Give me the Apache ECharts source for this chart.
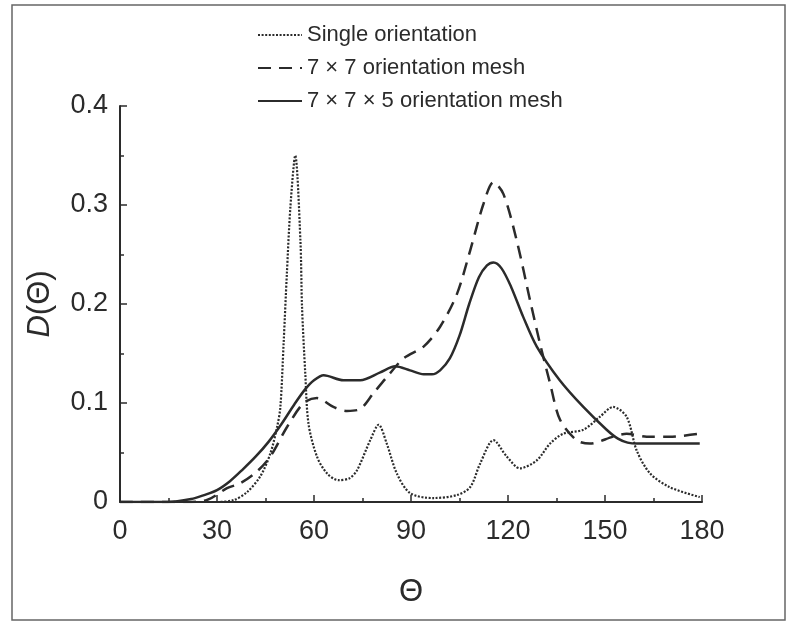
<!DOCTYPE html>
<html>
<head>
<meta charset="utf-8">
<script src="https://cdn.jsdelivr.net/npm/echarts@6/dist/echarts.min.js"></script>
<style>html,body{margin:0;padding:0;background:#fff}#c{width:788px;height:625px}</style>
</head>
<body>
<div id="c"></div>
<script>
// Θ values and D(Θ) values per series
var singleTheta = [0, 30, 35.2, 39.3, 43.4, 46.5, 48.6, 49.6, 50.6, 51.6, 52.7, 54.2, 55.8, 56.3, 57.3, 58.3, 60.9, 64, 67.6, 71, 73.3, 77.4, 80, 82.5, 85.6, 89.7, 96.9, 104.2, 108.3, 111.4, 115.5, 119.6, 123.7, 128.9, 133, 137.1, 143.3, 148.4, 152.5, 156.7, 159.8, 163.9, 170, 179.3];
var singleD = [0, 0, 0.002, 0.01, 0.026, 0.049, 0.076, 0.096, 0.16, 0.23, 0.298, 0.35, 0.264, 0.197, 0.13, 0.079, 0.046, 0.029, 0.022, 0.024, 0.032, 0.0625, 0.078, 0.059, 0.029, 0.009, 0.004, 0.007, 0.015, 0.039, 0.0625, 0.046, 0.034, 0.042, 0.059, 0.069, 0.073, 0.086, 0.096, 0.086, 0.052, 0.029, 0.015, 0.005];

var mesh77Theta = [0, 20, 26.9, 33.1, 37.2, 42.4, 46.5, 51.7, 56.8, 60.9, 66, 70.2, 74.3, 78.4, 82.5, 87.7, 93.9, 99, 104.2, 108.3, 112.4, 115.5, 118.6, 122.7, 126.8, 129.9, 133, 136.1, 141.2, 145.3, 152.5, 156.7, 162.9, 170, 179.3];
var mesh77D = [0, 0, 0.002, 0.014, 0.019, 0.031, 0.046, 0.076, 0.1, 0.105, 0.096, 0.092, 0.094, 0.11, 0.126, 0.145, 0.157, 0.177, 0.21, 0.254, 0.301, 0.323, 0.311, 0.264, 0.204, 0.16, 0.12, 0.083, 0.0625, 0.059, 0.066, 0.069, 0.066, 0.066, 0.069];

var mesh775Theta = [0, 14.7, 22, 26, 30, 34, 38, 42, 46, 50, 54, 57.3, 60, 63, 69.1, 74.3, 80.5, 85.1, 89.7, 93.9, 96.5, 99, 102, 105, 108, 111, 113.5, 115.5, 118, 121, 124.7, 128.9, 136, 143.3, 150.5, 154, 157, 160, 179.3];
var mesh775D = [0, 0, 0.003, 0.007, 0.012, 0.021, 0.033, 0.046, 0.061, 0.079, 0.099, 0.114, 0.123, 0.128, 0.123, 0.123, 0.131, 0.137, 0.133, 0.129, 0.129, 0.133, 0.145, 0.168, 0.2, 0.227, 0.239, 0.242, 0.236, 0.217, 0.187, 0.157, 0.123, 0.096, 0.073, 0.064, 0.06, 0.059, 0.059];

var xTicks = [0, 30, 60, 90, 120, 150, 180];
var yTicks = [0, 0.1, 0.2, 0.3, 0.4];
var seriesNames = ['Single orientation', '7 × 7 orientation mesh', '7 × 7 × 5 orientation mesh'];

function pairs(xs, ys) { return xs.map(function (x, i) { return [x, ys[i]]; }); }

var FONT = '"Liberation Sans", Arial, sans-serif';
var INK = '#2b2b2b';

var chart = echarts.init(document.getElementById('c'), null, { renderer: 'canvas' });
chart.setOption({
  backgroundColor: '#fff',
  animation: false,
  graphic: [{
    type: 'rect', shape: { x: 12, y: 5, width: 773, height: 615 },
    style: { fill: 'none', stroke: '#666', lineWidth: 1.5 }, silent: true
  }],
  grid: { left: 120, right: 86, top: 106, bottom: 123 },
  legend: {
    orient: 'vertical', left: 252, top: 19,
    itemWidth: 44, itemHeight: 14, itemGap: 11,
    itemStyle: { opacity: 0 },
    textStyle: { fontFamily: FONT, fontSize: 22, color: INK, lineHeight: 22 },
    data: seriesNames
  },
  xAxis: {
    type: 'value', min: xTicks[0], max: xTicks[xTicks.length - 1], interval: 30,
    name: 'Θ', nameLocation: 'middle', nameGap: 75,
    nameTextStyle: { fontFamily: FONT, fontSize: 31, color: INK },
    axisLine: { lineStyle: { color: INK, width: 2 } },
    axisTick: { inside: true, length: 7, lineStyle: { color: INK, width: 1.5 } },
    minorTick: { show: true, splitNumber: 2, length: 4, lineStyle: { color: INK, width: 1.5 } },
    axisLabel: { fontFamily: FONT, fontSize: 27, color: INK, margin: 16 },
    splitLine: { show: false }
  },
  yAxis: {
    type: 'value', min: yTicks[0], max: yTicks[yTicks.length - 1], interval: 0.1,
    name: '{i|D}(Θ)', nameLocation: 'middle', nameGap: 64, nameRotate: 90,
    nameTextStyle: { fontFamily: FONT, fontSize: 31, color: INK,
      rich: { i: { fontFamily: FONT, fontSize: 31, fontStyle: 'italic', color: INK } } },
    axisLine: { show: true, lineStyle: { color: INK, width: 2 } },
    axisTick: { show: true, inside: true, length: 7, lineStyle: { color: INK, width: 1.5 } },
    minorTick: { show: true, splitNumber: 2, length: 4, lineStyle: { color: INK, width: 1.5 } },
    axisLabel: { fontFamily: FONT, fontSize: 27, color: INK, margin: 12,
      formatter: function (v) { return v === 0 ? '0' : v.toFixed(1); } },
    splitLine: { show: false }
  },
  series: [
    {
      name: seriesNames[0], type: 'line', data: pairs(singleTheta, singleD),
      smooth: 0.3, symbol: 'none',
      lineStyle: { color: INK, width: 2.2, type: [2, 1.6] }, itemStyle: { color: INK }
    },
    {
      name: seriesNames[1], type: 'line', data: pairs(mesh77Theta, mesh77D),
      smooth: 0.3, symbol: 'none',
      lineStyle: { color: INK, width: 2.5, type: [13, 8] }, itemStyle: { color: INK }
    },
    {
      name: seriesNames[2], type: 'line', data: pairs(mesh775Theta, mesh775D),
      smooth: 0.3, symbol: 'none',
      lineStyle: { color: INK, width: 2.5 }, itemStyle: { color: INK }
    }
  ]
});
</script>
</body>
</html>
